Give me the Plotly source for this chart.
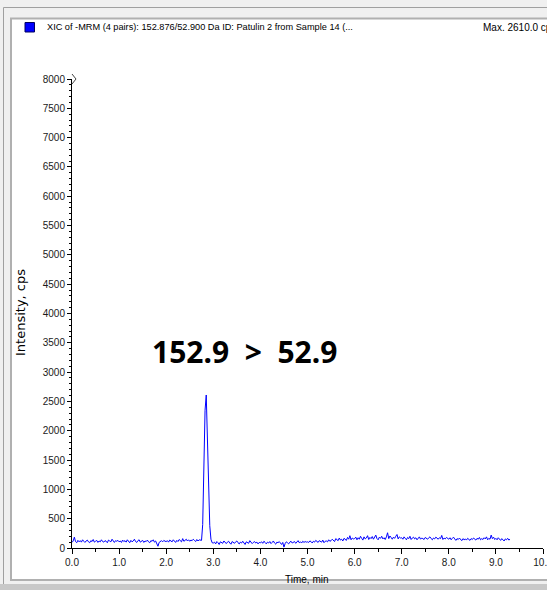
import numpy as np
import plotly.graph_objects as go

# ---------------- data ----------------
t_start = 0.0          # min
t_step = 0.025         # min, sampling interval
intensity_0_1 = [95,120,185,110,90,130,105,125,100,140,115,95,120,135,105,90,125,110,145,100,
                 115,130,95,120,105,140,110,100,125,115,90,135,120,105,150,110,95,125,115,130]
intensity_1_2 = [105,120,95,135,110,125,100,140,115,90,130,105,120,150,110,95,125,140,100,115,
                 130,95,120,110,135,105,90,125,115,140,100,120,70,30,95,110,125,105,130,115]
intensity_2_3 = [110,125,100,135,115,105,140,120,95,130,110,145,125,105,160,115,130,150,120,140,
                 115,135,125,150,130,110,145,120,140,135,130,400,1700,2350,2610,1900,1000,380,150,90]
intensity_3_4 = [85,100,70,110,90,60,105,95,80,120,90,75,100,115,85,65,110,95,80,105,
                 120,90,70,100,85,115,95,60,105,90,80,125,100,75,95,110,85,100,70,95]
intensity_4_5 = [90,105,80,115,95,70,100,85,110,75,95,120,85,65,100,90,110,80,60,95,
                 15,75,105,90,70,100,115,85,95,110,80,100,125,90,105,85,115,95,110,100]
intensity_5_6 = [105,95,120,110,85,115,100,130,105,95,125,110,100,135,90,115,120,105,140,115,
                 125,150,130,110,160,140,125,170,135,150,120,165,145,130,180,150,210,140,170,155]
intensity_6_7 = [160,185,140,175,150,200,165,135,190,155,170,210,145,180,160,195,150,175,220,160,
                 140,185,165,200,155,175,145,190,260,160,205,180,150,185,165,200,230,155,190,170]
intensity_7_8 = [175,150,190,165,140,180,160,200,145,170,185,155,175,140,165,190,150,170,160,145,
                 180,165,150,175,190,160,140,170,155,185,165,150,175,160,215,145,170,155,180,165]
intensity_8_9 = [150,175,140,165,185,155,130,160,145,170,150,125,160,140,155,135,165,150,130,160,
                 145,170,155,135,165,150,180,140,160,145,175,155,190,140,165,150,220,160,185,145]
intensity_9_end = [165,140,175,150,130,160,145,120,155,140,165,135,150]

intensity = (intensity_0_1 + intensity_1_2 + intensity_2_3 + intensity_3_4 + intensity_4_5 +
             intensity_5_6 + intensity_6_7 + intensity_7_8 + intensity_8_9 + intensity_9_end)
time_min = np.round(t_start + t_step * np.arange(len(intensity)), 4)

y_ticks = list(range(0, 8001, 500))
x_ticks = [0.0, 1.0, 2.0, 3.0, 4.0, 5.0, 6.0, 7.0, 8.0, 9.0, 10.0]
x_ticktext = ["0.0", "1.0", "2.0", "3.0", "4.0", "5.0", "6.0", "7.0", "8.0", "9.0", "10.0"]

header_text = "XIC of -MRM (4 pairs): 152.876/52.900 Da ID: Patulin 2 from Sample 14 (..."
max_text = "Max. 2610.0 cps"
transition_text = "152.9\u00a0\u00a0>\u00a0\u00a052.9"

# ---------------- layout helpers ----------------
W, H = 547, 590
L, R, T, B = 72, 4, 79, 42
def px(x):
    return (x - L) / (W - L - R)
def py(y):
    return (H - B - y) / (H - T - B)

fig = go.Figure()
fig.add_trace(go.Scatter(x=time_min, y=intensity, mode="lines",
                         line=dict(color="#0000ff", width=1), hoverinfo="x+y"))

shapes = [
    dict(type="rect", xref="paper", yref="paper", x0=px(11), x1=px(549), y0=py(18.5), y1=py(580),
         fillcolor="white", line=dict(color="#b0b0b0", width=2), layer="below"),
    dict(type="line", xref="paper", yref="paper", x0=px(3.5), x1=px(549), y0=py(7.5), y1=py(7.5),
         line=dict(color="#a0a0a0", width=1)),
    dict(type="line", xref="paper", yref="paper", x0=px(3.5), x1=px(3.5), y0=py(7.5), y1=py(592),
         line=dict(color="#a0a0a0", width=1)),
    dict(type="rect", xref="paper", yref="paper", x0=px(-2), x1=px(549), y0=py(584), y1=py(592),
         fillcolor="#c8c8c8", line=dict(width=0)),
    dict(type="rect", xref="paper", yref="paper", x0=px(25), x1=px(34.5), y0=py(22.5), y1=py(32),
         fillcolor="#0000ff", line=dict(color="#000060", width=1)),
    dict(type="path", xref="paper", yref="paper",
         path=f"M {px(72)},{py(74)} L {px(76)},{py(79)} L {px(72)},{py(84)}",
         line=dict(color="#444444", width=1)),
]

annotations = [
    dict(text=header_text, xref="paper", yref="paper", x=px(45), y=py(27.5),
         xanchor="left", yanchor="middle", showarrow=False,
         font=dict(family="Liberation Sans, Arial", size=9.2, color="#000000")),
    dict(text=max_text, xref="paper", yref="paper", x=px(481), y=py(27.5),
         xanchor="left", yanchor="middle", showarrow=False,
         font=dict(family="Liberation Sans, Arial", size=10, color="#000000")),
    dict(text="Intensity, cps", xref="paper", yref="paper", x=px(20), y=py(313),
         xanchor="center", yanchor="middle", textangle=-90, showarrow=False,
         font=dict(family="DejaVu Sans", size=13, color="#000000")),
    dict(text="Time, min", xref="paper", yref="paper", x=px(307), y=py(579),
         xanchor="center", yanchor="middle", showarrow=False,
         font=dict(family="Liberation Sans, Arial", size=10, color="#000000")),
    dict(text="<b>" + transition_text + "</b>", xref="paper", yref="paper", x=px(244), y=py(351),
         xanchor="center", yanchor="middle", showarrow=False,
         font=dict(family="Noto Sans", size=30, color="#000000")),
]

fig.update_layout(
    template="none",
    width=W, height=H,
    margin=dict(l=L, r=R, t=T, b=B, pad=0, autoexpand=False),
    paper_bgcolor="#f0f0f0", plot_bgcolor="white",
    showlegend=False,
    shapes=shapes, annotations=annotations,
    xaxis=dict(range=[0, 10], tickvals=x_ticks, ticktext=x_ticktext, automargin=False,
               showgrid=False, zeroline=False, showline=True, linecolor="black", linewidth=1,
               ticks="outside", ticklen=5, tickwidth=1, tickcolor="black",
               ticklabeloverflow="allow",
               tickfont=dict(family="Liberation Sans, Arial", size=10, color="#1a1a1a"),
               minor=dict(dtick=0.5, tick0=0, ticks="outside", ticklen=3, tickcolor="black", showgrid=False)),
    yaxis=dict(range=[0, 8000], tickvals=y_ticks, automargin=False,
               showgrid=False, zeroline=False, showline=True, linecolor="black", linewidth=1,
               ticks="outside", ticklen=4, tickwidth=1, tickcolor="black",
               tickfont=dict(family="Liberation Sans, Arial", size=10, color="#1a1a1a"),
               minor=dict(dtick=100, tick0=0, ticks="outside", ticklen=2, tickcolor="black", showgrid=False)),
)

fig.write_html("out.html", config={"displayModeBar": False},
               post_script="document.body.style.margin='0';document.body.style.overflow='hidden';")
